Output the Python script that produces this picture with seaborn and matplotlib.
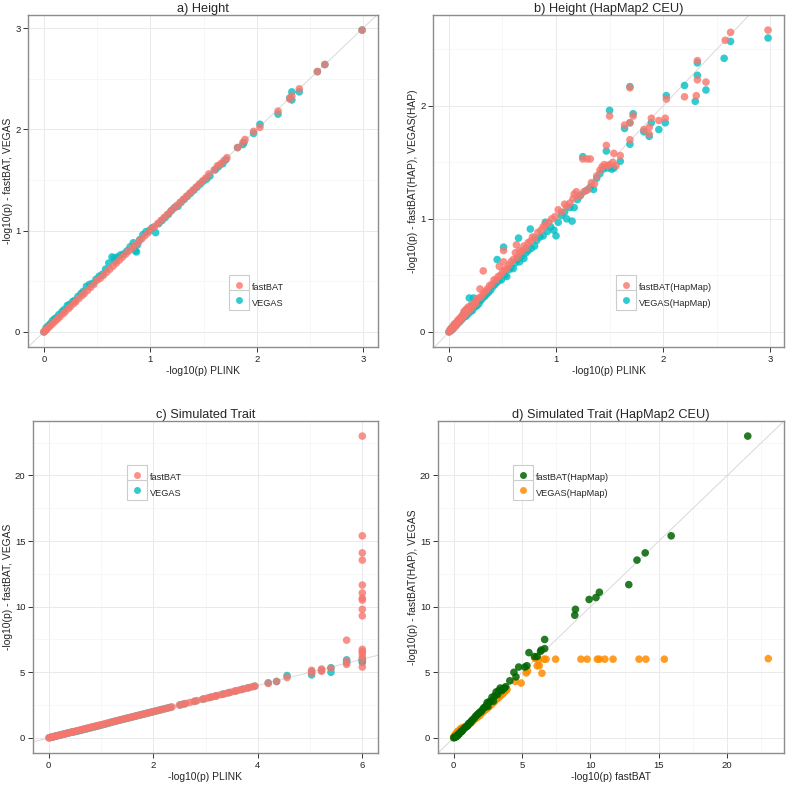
import pandas as pd
import numpy as np
import matplotlib
matplotlib.use('Agg')
import matplotlib.pyplot as plt
from matplotlib.lines import Line2D
from matplotlib.patches import Rectangle
import seaborn as sns

sns.set_theme(style='white')
plt.rcParams['font.family'] = ['Liberation Sans', 'DejaVu Sans']

RED = '#F8766D'
CYAN = '#00BFC4'
GREEN = '#006400'
ORANGE = '#FF8C00'

# a) Height : PLINK vs fastBAT / VEGAS
a_plink_f = [0.00, 0.01, 0.02, 0.03, 0.05, 0.07, 0.09, 0.11, 0.13, 0.15,
             0.18, 0.20, 0.23, 0.25, 0.28, 0.30, 0.33, 0.36, 0.38, 0.41,
             0.44, 0.47, 0.50, 0.53, 0.56, 0.59, 0.62, 0.65, 0.68, 0.71,
             0.74, 0.77, 0.80, 0.83, 0.86, 0.89, 0.92, 0.95, 0.98, 1.01,
             1.04, 1.07, 1.10, 1.13, 1.16, 1.19, 1.22, 1.25, 1.28, 1.31,
             1.34, 1.37, 1.40, 1.43, 1.46, 1.49, 1.52, 1.55, 1.60, 1.63,
             1.66, 1.69, 1.72, 1.82, 1.87, 1.89, 1.97, 2.03, 2.20, 2.31,
             2.33, 2.40, 2.57, 2.64, 2.99]
a_fastbat = [0.00, 0.01, 0.02, 0.03, 0.05, 0.07, 0.09, 0.11, 0.13, 0.15,
             0.18, 0.20, 0.23, 0.25, 0.28, 0.30, 0.33, 0.36, 0.38, 0.41,
             0.44, 0.47, 0.51, 0.53, 0.56, 0.59, 0.62, 0.65, 0.68, 0.71,
             0.74, 0.77, 0.80, 0.83, 0.86, 0.89, 0.92, 0.95, 0.98, 1.02,
             1.04, 1.07, 1.10, 1.13, 1.16, 1.19, 1.22, 1.25, 1.28, 1.31,
             1.34, 1.37, 1.40, 1.43, 1.46, 1.49, 1.52, 1.56, 1.60, 1.64,
             1.66, 1.69, 1.72, 1.82, 1.87, 1.90, 1.98, 2.02, 2.18, 2.30,
             2.33, 2.40, 2.57, 2.64, 2.98]
a_plink_v = [0.00, 0.02, 0.04, 0.06, 0.08, 0.10, 0.12, 0.14, 0.17, 0.19,
             0.22, 0.24, 0.27, 0.29, 0.32, 0.35, 0.37, 0.40, 0.43, 0.46,
             0.49, 0.52, 0.55, 0.58, 0.61, 0.64, 0.66, 0.67, 0.69, 0.72,
             0.75, 0.78, 0.81, 0.84, 0.86, 0.87, 0.88, 0.90, 0.93, 0.96,
             0.99, 1.02, 1.05, 1.08, 1.11, 1.14, 1.17, 1.20, 1.23, 1.26,
             1.29, 1.32, 1.35, 1.38, 1.41, 1.44, 1.47, 1.50, 1.53, 1.56,
             1.61, 1.64, 1.68, 1.71, 1.82, 1.87, 1.88, 1.97, 2.03, 2.20,
             2.31, 2.33, 2.33, 2.40, 2.57, 2.64, 2.99]
a_vegas = [0.00, 0.04, 0.06, 0.08, 0.11, 0.13, 0.14, 0.17, 0.20, 0.22,
           0.26, 0.27, 0.30, 0.31, 0.35, 0.38, 0.40, 0.45, 0.47, 0.48,
           0.52, 0.55, 0.57, 0.62, 0.68, 0.74, 0.73, 0.70, 0.74, 0.76,
           0.77, 0.80, 0.84, 0.88, 0.80, 0.79, 0.86, 0.91, 0.96, 0.99,
           1.00, 1.03, 0.98, 1.07, 1.10, 1.13, 1.16, 1.20, 1.23, 1.24,
           1.28, 1.31, 1.34, 1.37, 1.40, 1.43, 1.46, 1.49, 1.51, 1.54,
           1.60, 1.63, 1.66, 1.70, 1.82, 1.85, 1.87, 1.96, 2.05, 2.15,
           2.31, 2.37, 2.29, 2.37, 2.57, 2.64, 2.98]

# b) Height (HapMap2 CEU)
b_plink_f = [0.00, 0.01, 0.02, 0.03, 0.04, 0.05, 0.06, 0.07, 0.08, 0.09,
             0.10, 0.11, 0.12, 0.13, 0.14, 0.15, 0.16, 0.17, 0.18, 0.19,
             0.20, 0.21, 0.22, 0.24, 0.25, 0.26, 0.28, 0.29, 0.30, 0.32,
             0.32, 0.34, 0.36, 0.38, 0.40, 0.42, 0.44, 0.46, 0.47, 0.48,
             0.50, 0.51, 0.51, 0.52, 0.54, 0.56, 0.58, 0.60, 0.62, 0.63,
             0.64, 0.66, 0.68, 0.70, 0.72, 0.74, 0.76, 0.78, 0.80, 0.83,
             0.86, 0.88, 0.90, 0.93, 0.96, 0.99, 1.02, 1.05, 1.08, 1.10,
             1.13, 1.16, 1.17, 1.19, 1.22, 1.25, 1.26, 1.29, 1.30, 1.32,
             1.33, 1.36, 1.38, 1.41, 1.43, 1.45, 1.47, 1.48, 1.50, 1.50,
             1.53, 1.54, 1.56, 1.60, 1.64, 1.69, 1.69, 1.69, 1.72, 1.82,
             1.87, 1.87, 1.89, 1.96, 2.02, 2.03, 2.20, 2.31, 2.32, 2.32,
             2.40, 2.58, 2.63, 2.98]
b_fastbat = [0.00, 0.02, 0.01, 0.04, 0.03, 0.07, 0.05, 0.08, 0.10, 0.08,
             0.12, 0.10, 0.14, 0.13, 0.18, 0.15, 0.20, 0.17, 0.22, 0.19,
             0.21, 0.24, 0.22, 0.26, 0.25, 0.29, 0.30, 0.38, 0.31, 0.54,
             0.34, 0.36, 0.38, 0.41, 0.42, 0.46, 0.46, 0.49, 0.58, 0.50,
             0.53, 0.62, 0.72, 0.55, 0.56, 0.59, 0.62, 0.64, 0.70, 0.77,
             0.66, 0.72, 0.71, 0.76, 0.74, 0.79, 0.80, 0.84, 0.83, 0.88,
             0.90, 0.93, 0.95, 0.97, 1.00, 1.02, 1.08, 1.06, 1.13, 1.11,
             1.14, 1.18, 1.22, 1.24, 1.20, 1.53, 1.24, 1.53, 1.26, 1.53,
             1.32, 1.31, 1.38, 1.43, 1.46, 1.48, 1.65, 1.47, 1.91, 1.48,
             1.50, 1.58, 1.47, 1.56, 1.83, 2.16, 1.85, 1.70, 1.91, 1.79,
             1.81, 1.75, 1.89, 1.87, 1.89, 2.06, 2.08, 2.09, 2.40, 2.23,
             2.21, 2.58, 2.65, 2.67]
b_plink_v = [0.00, 0.01, 0.02, 0.03, 0.04, 0.05, 0.06, 0.07, 0.08, 0.09,
             0.10, 0.11, 0.12, 0.13, 0.14, 0.15, 0.16, 0.17, 0.18, 0.19,
             0.20, 0.21, 0.22, 0.23, 0.24, 0.26, 0.27, 0.28, 0.30, 0.31,
             0.33, 0.35, 0.37, 0.39, 0.41, 0.43, 0.45, 0.45, 0.47, 0.49,
             0.51, 0.52, 0.54, 0.56, 0.58, 0.60, 0.62, 0.64, 0.65, 0.66,
             0.68, 0.70, 0.72, 0.74, 0.76, 0.77, 0.80, 0.82, 0.85, 0.88,
             0.90, 0.92, 0.95, 0.98, 1.00, 1.02, 1.05, 1.08, 1.10, 1.13,
             1.15, 1.17, 1.20, 1.23, 1.25, 1.28, 1.32, 1.35, 1.38, 1.41,
             1.44, 1.47, 1.48, 1.50, 1.52, 1.54, 1.60, 1.64, 1.69, 1.69,
             1.69, 1.72, 1.82, 1.87, 1.89, 1.96, 2.02, 2.03, 2.20, 2.30,
             2.32, 2.32, 2.40, 2.57, 2.63, 2.98]
b_vegas = [0.00, 0.01, 0.03, 0.02, 0.05, 0.04, 0.07, 0.06, 0.08, 0.10,
           0.09, 0.12, 0.11, 0.15, 0.13, 0.18, 0.14, 0.20, 0.16, 0.30,
           0.18, 0.23, 0.19, 0.30, 0.22, 0.23, 0.27, 0.25, 0.28, 0.30,
           0.31, 0.33, 0.35, 0.37, 0.40, 0.42, 0.64, 0.44, 0.46, 0.46,
           0.75, 0.50, 0.49, 0.55, 0.57, 0.56, 0.61, 0.64, 0.83, 0.62,
           0.67, 0.65, 0.70, 0.72, 0.91, 0.74, 0.76, 0.81, 0.84, 0.85,
           0.97, 0.89, 0.93, 0.90, 0.85, 0.97, 1.03, 1.06, 1.00, 1.10,
           0.98, 1.10, 1.17, 1.21, 1.55, 1.25, 1.28, 1.26, 1.36, 1.40,
           1.44, 1.60, 1.45, 1.96, 1.44, 1.45, 1.51, 1.80, 2.17, 1.85,
           1.66, 1.93, 1.77, 1.73, 1.85, 1.79, 1.85, 2.09, 2.18, 2.04,
           2.38, 2.27, 2.14, 2.42, 2.57, 2.60]

# c) Simulated Trait
c_plink_f = [0.00, 0.03, 0.06, 0.09, 0.12, 0.15, 0.19, 0.23, 0.27, 0.31,
             0.35, 0.39, 0.43, 0.47, 0.51, 0.55, 0.59, 0.63, 0.67, 0.71,
             0.75, 0.79, 0.83, 0.87, 0.91, 0.95, 1.00, 1.05, 1.10, 1.15,
             1.20, 1.25, 1.30, 1.35, 1.40, 1.45, 1.50, 1.55, 1.60, 1.65,
             1.70, 1.75, 1.80, 1.85, 1.90, 1.95, 2.00, 2.06, 2.12, 2.18,
             2.24, 2.30, 2.36, 2.50, 2.56, 2.62, 2.70, 2.78, 2.84, 2.94,
             3.00, 3.06, 3.12, 3.18, 3.22, 3.30, 3.36, 3.42, 3.48, 3.55,
             3.60, 3.66, 3.72, 3.78, 3.84, 3.90, 3.95,
             4.20, 4.36, 4.56, 5.03, 5.03, 5.22, 5.22, 5.40, 5.70, 5.70, 5.70,
             6.00, 6.00, 6.00, 6.00, 6.00, 6.00, 6.00, 6.00,
             6.00, 6.00, 6.00, 6.00, 6.00, 6.00, 6.00, 6.00]
c_fastbat = [0.00, 0.03, 0.06, 0.09, 0.12, 0.15, 0.19, 0.23, 0.27, 0.31,
             0.35, 0.39, 0.43, 0.47, 0.51, 0.55, 0.59, 0.63, 0.67, 0.71,
             0.75, 0.79, 0.83, 0.87, 0.91, 0.95, 1.00, 1.05, 1.10, 1.15,
             1.20, 1.25, 1.30, 1.35, 1.40, 1.45, 1.50, 1.55, 1.60, 1.65,
             1.70, 1.75, 1.80, 1.85, 1.90, 1.95, 2.00, 2.06, 2.12, 2.18,
             2.24, 2.30, 2.36, 2.50, 2.56, 2.62, 2.70, 2.78, 2.84, 2.94,
             3.00, 3.06, 3.12, 3.18, 3.22, 3.30, 3.36, 3.42, 3.48, 3.55,
             3.60, 3.66, 3.72, 3.78, 3.84, 3.90, 3.95,
             4.15, 4.30, 4.60, 5.15, 4.95, 5.25, 5.08, 5.30, 7.45, 5.60, 5.85,
             23.0, 15.4, 14.1, 13.55, 11.65, 11.05, 10.65, 10.5,
             9.8, 9.3, 6.75, 6.6, 6.45, 6.2, 5.95, 5.4]
c_plink_v = [0.02, 0.05, 0.08, 0.11, 0.14, 0.17, 0.21, 0.25, 0.29, 0.33,
             0.37, 0.41, 0.45, 0.49, 0.53, 0.57, 0.61, 0.65, 0.69, 0.73,
             0.77, 0.81, 0.85, 0.89, 0.93, 0.97, 1.02, 1.08, 1.13, 1.18,
             1.23, 1.28, 1.33, 1.38, 1.43, 1.48, 1.53, 1.58, 1.63, 1.68,
             1.73, 1.78, 1.83, 1.88, 1.93, 1.98, 2.03, 2.09, 2.15, 2.21,
             2.27, 2.33, 2.52, 2.60, 2.80, 2.96, 3.09, 3.20, 3.33, 3.45,
             3.58, 3.70, 3.82, 3.93,
             4.20, 4.36, 4.56, 5.03, 5.03, 5.22, 5.40, 5.40, 5.70, 5.70,
             6.00, 6.00, 6.00]
c_vegas = [0.02, 0.05, 0.08, 0.11, 0.14, 0.17, 0.21, 0.25, 0.29, 0.33,
           0.37, 0.41, 0.45, 0.46, 0.50, 0.54, 0.58, 0.62, 0.66, 0.70,
           0.74, 0.78, 0.82, 0.86, 0.90, 0.94, 0.99, 1.05, 1.11, 1.17,
           1.23, 1.28, 1.33, 1.38, 1.43, 1.48, 1.53, 1.58, 1.63, 1.68,
           1.73, 1.78, 1.83, 1.88, 1.93, 1.98, 2.03, 2.09, 2.15, 2.21,
           2.27, 2.33, 2.52, 2.60, 2.80, 2.96, 3.09, 3.20, 3.33, 3.45,
           3.58, 3.70, 3.82, 3.93,
           4.20, 4.30, 4.75, 4.80, 5.05, 5.15, 5.00, 5.35, 5.95, 5.75,
           6.00, 5.75, 5.85]

# d) Simulated Trait (HapMap2 CEU) : x = fastBAT
d_fast_g = [0.0, 0.1, 0.2, 0.3, 0.4, 0.5, 0.6, 0.75, 0.9, 1.0,
            1.1, 1.25, 1.4, 1.6, 1.8, 2.0, 2.2, 2.4, 2.5, 2.6,
            2.8, 2.9, 3.0, 3.1, 3.3, 3.4, 3.6, 3.8, 4.1, 4.4,
            4.55, 4.75, 5.2, 5.35, 5.5, 5.9, 6.1, 6.35, 6.4, 6.65,
            6.65, 8.85, 8.9, 9.9, 10.4, 10.65, 12.8, 13.4, 14.0, 15.9,
            21.5,
            0.05, 0.15, 0.25, 0.35, 0.55, 0.65, 0.85, 1.05, 1.2, 1.3,
            1.5, 1.7, 1.9, 2.1, 2.3, 2.7, 3.2, 3.5, 3.7, 2.45]
d_fasthap = [0.0, 0.05, 0.1, 0.2, 0.3, 0.45, 0.5, 0.7, 0.85, 0.9,
             1.1, 1.2, 1.4, 1.65, 1.85, 2.0, 2.3, 2.5, 2.4, 2.75,
             3.1, 2.8, 3.2, 3.5, 3.6, 3.8, 3.7, 3.9, 4.35, 5.0,
             4.65, 5.4, 5.4, 5.5, 6.5, 6.2, 6.2, 6.6, 6.7, 6.8,
             7.5, 9.35, 9.8, 10.55, 10.7, 11.1, 11.68, 13.55, 14.1, 15.4,
             23.0,
             0.05, 0.1, 0.2, 0.3, 0.5, 0.6, 0.8, 1.0, 1.15, 1.3,
             1.5, 1.75, 1.95, 2.15, 2.35, 2.8, 3.3, 3.6, 3.8, 2.7]
d_fast_o = [0.0, 0.1, 0.2, 0.3, 0.4, 0.5, 0.6, 0.75, 0.9, 1.1,
            1.3, 1.5, 1.7, 1.9, 2.1, 2.3, 2.5, 2.7, 2.9, 3.1,
            3.3, 3.5, 3.7, 3.8, 4.5, 4.93, 5.3, 5.4, 5.95, 6.1,
            6.2, 6.25, 6.45, 6.6, 6.75, 7.45, 9.3, 9.75, 10.5, 10.65,
            11.05, 11.65, 13.55, 14.05, 15.4, 23.0,
            0.15, 0.25, 0.45, 0.7, 1.0, 1.2, 1.4, 1.6, 1.8, 2.0,
            2.2, 2.4, 2.6, 2.8, 3.0, 3.2, 3.4, 3.6, 3.9]
d_vegashap = [0.1, 0.25, 0.35, 0.5, 0.55, 0.7, 0.75, 0.8, 0.85, 1.0,
              1.2, 1.4, 1.55, 1.7, 1.95, 2.15, 2.3, 2.5, 2.7, 2.95,
              3.1, 3.3, 3.5, 3.6, 4.3, 4.18, 4.95, 5.1, 6.05, 5.5,
              5.95, 5.5, 4.93, 6.0, 6.0, 6.0, 6.0, 6.0, 6.0, 6.0,
              6.0, 6.0, 6.0, 6.0, 6.0, 6.04,
              0.3, 0.45, 0.6, 0.8, 0.95, 1.1, 1.3, 1.5, 1.65, 1.85,
              2.05, 2.2, 2.4, 2.6, 2.8, 3.0, 3.2, 3.4, 3.7]

W, H = 787, 785
fig = plt.figure(figsize=(W / 100, H / 100), dpi=100)


def make_df(x1, y1, lab1, x2, y2, lab2):
    # second series first so the first one is drawn on top
    d2 = pd.DataFrame({'x': x2, 'y': y2, 'series': lab2})
    d1 = pd.DataFrame({'x': x1, 'y': y1, 'series': lab1})
    return pd.concat([d2, d1], ignore_index=True)


def px_axes(l, t, r, b):
    return fig.add_axes([l / W, 1 - b / H, (r - l) / W, (b - t) / H])


def expand(v):
    lo, hi = min(v), max(v)
    pad = 0.05 * (hi - lo)
    return lo - pad, hi + pad


legends = []


def panel(ax, df, order, colors, title, xlabel, ylabel, xmaj, xmin, ymaj, ymin, leg_px, alpha=0.8):
    ax.axline((0, 0), slope=1, color='#D9D9D9', lw=0.7, zorder=2)
    sns.scatterplot(data=df, x='x', y='y', hue='series', hue_order=order,
                    palette=colors, s=30, alpha=alpha, linewidth=0,
                    legend=False, ax=ax, zorder=3)
    ax.set_xlim(expand(df['x']))
    ax.set_ylim(expand(df['y']))
    ax.set_xticks(xmaj)
    ax.set_xticks(xmin, minor=True)
    ax.set_yticks(ymaj)
    ax.set_yticks(ymin, minor=True)
    ax.grid(which='major', color='#E6E6E6', lw=0.6)
    ax.grid(which='minor', color='#F4F4F4', lw=0.5)
    ax.set_axisbelow(True)
    ax.tick_params(which='major', bottom=True, left=True, direction='out',
                   length=3.5, width=0.7, color='#333333', pad=2,
                   labelsize=6.8, labelcolor='#222222')
    ax.tick_params(which='minor', length=0)
    for sp in ax.spines.values():
        sp.set_color('#8C8C8C')
        sp.set_linewidth(1.0)
    ax.set_title(title, fontsize=9.2, pad=2.5)
    ax.set_xlabel(xlabel, fontsize=7.4, labelpad=1.5)
    ax.set_ylabel(ylabel, fontsize=7.4, labelpad=1.5)

    handles = [Line2D([], [], marker='o', ls='', color=c, alpha=alpha,
                      markersize=5.0, markeredgewidth=0) for c in colors]
    fs = 6.6
    hl = 20 / (fs * 100 / 72)
    leg = ax.legend(handles, order, loc='upper left',
                    bbox_to_anchor=(leg_px[0] / W, 1 - leg_px[1] / H),
                    bbox_transform=fig.transFigure, frameon=False, fontsize=fs,
                    handlelength=hl, handleheight=hl, labelspacing=0,
                    handletextpad=0.3, borderpad=0, borderaxespad=0)
    legends.append((ax, leg))


ax_a = px_axes(28, 15, 378, 347)
panel(ax_a, make_df(a_plink_f, a_fastbat, 'fastBAT', a_plink_v, a_vegas, 'VEGAS'),
      ['fastBAT', 'VEGAS'], [RED, CYAN], 'a) Height',
      '-log10(p) PLINK', '-log10(p) - fastBAT, VEGAS',
      [0, 1, 2, 3], [0.5, 1.5, 2.5], [0, 1, 2, 3], [0.5, 1.5, 2.5], (229, 280))

ax_b = px_axes(433, 15, 784, 347)
panel(ax_b, make_df(b_plink_f, b_fastbat, 'fastBAT(HapMap)', b_plink_v, b_vegas, 'VEGAS(HapMap)'),
      ['fastBAT(HapMap)', 'VEGAS(HapMap)'], [RED, CYAN], 'b) Height (HapMap2 CEU)',
      '-log10(p) PLINK', '-log10(p) - fastBAT(HAP), VEGAS(HAP)',
      [0, 1, 2, 3], [0.5, 1.5, 2.5], [0, 1, 2], [0.5, 1.5, 2.5], (616, 280))

ax_c = px_axes(33, 421, 378, 753)
panel(ax_c, make_df(c_plink_f, c_fastbat, 'fastBAT', c_plink_v, c_vegas, 'VEGAS'),
      ['fastBAT', 'VEGAS'], [RED, CYAN], 'c) Simulated Trait',
      '-log10(p) PLINK', '-log10(p) - fastBAT, VEGAS',
      [0, 2, 4, 6], [1, 3, 5], [0, 5, 10, 15, 20], [2.5, 7.5, 12.5, 17.5, 22.5], (127, 470))

ax_d = px_axes(438, 421, 784, 753)
panel(ax_d, make_df(d_fast_g, d_fasthap, 'fastBAT(HapMap)', d_fast_o, d_vegashap, 'VEGAS(HapMap)'),
      ['fastBAT(HapMap)', 'VEGAS(HapMap)'], [GREEN, ORANGE], 'd) Simulated Trait (HapMap2 CEU)',
      '-log10(p) fastBAT', '-log10(p) - fastBAT(HAP), VEGAS',
      [0, 5, 10, 15, 20], [2.5, 7.5, 12.5, 17.5, 22.5], [0, 5, 10, 15, 20], [2.5, 7.5, 12.5, 17.5, 22.5],
      (513, 470), alpha=0.85)

# legend key boxes (theme_bw style) behind the legend markers
fig.canvas.draw()
renderer = fig.canvas.get_renderer()
for ax, leg in legends:
    for hnd in leg.legend_handles:
        bb = hnd.get_window_extent(renderer)
        cx, cy = (bb.x0 + bb.x1) / 2, (bb.y0 + bb.y1) / 2
        ax.add_patch(Rectangle(((cx - 10) / W, (cy - 10) / H), 20 / W, 20 / H,
                               transform=fig.transFigure, facecolor='white',
                               edgecolor='#CCCCCC', lw=0.8, zorder=4, clip_on=False))

fig.savefig('out.png', dpi=100)
